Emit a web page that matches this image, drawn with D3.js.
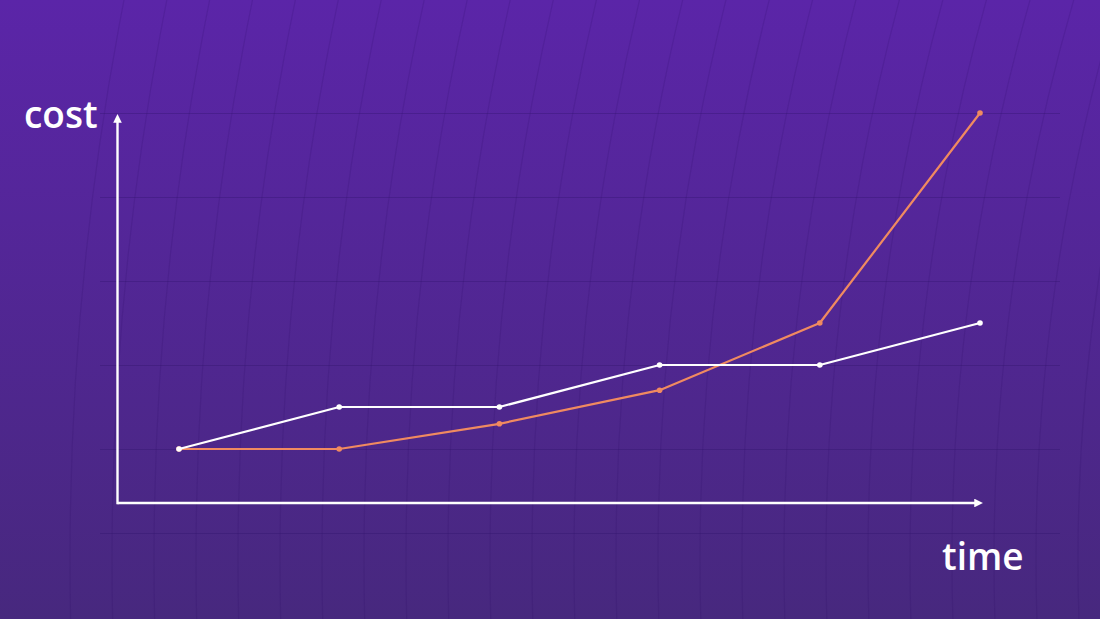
<!DOCTYPE html>
<html>
<head>
<meta charset="utf-8">
<script src="https://cdn.jsdelivr.net/npm/d3@7"></script>
<style>
  html, body { margin: 0; padding: 0; background: #512796; }
  svg { display: block; }
  .axis-title { font-family: "Open Sans", sans-serif; font-weight: 600; fill: #fff; font-size: 37px; }
</style>
</head>
<body>
<svg id="chart"></svg>
<script>
// data
const periods = ['t1', 't2', 't3', 't4', 't5', 't6'];
const baseCost = [1, 1.5, 1.5, 2, 2, 2.5];     // white line
const growthCost = [1, 1, 1.3, 1.7, 2.5, 5];   // orange line
const gridTicks = [0, 1, 2, 3, 4, 5];

const width = 1100, height = 619;
const svg = d3.select('#chart').attr('width', width).attr('height', height);

// background gradient
const defs = svg.append('defs');
const grad = defs.append('linearGradient')
    .attr('id', 'bg').attr('x1', 0).attr('y1', 0).attr('x2', 0).attr('y2', 1);
grad.append('stop').attr('offset', '0%').attr('stop-color', '#5b25a8');
grad.append('stop').attr('offset', '100%').attr('stop-color', '#47287e');

defs.append('marker')
    .attr('id', 'arrow')
    .attr('viewBox', '0 0 10 10')
    .attr('refX', 2).attr('refY', 5)
    .attr('markerWidth', 3.6).attr('markerHeight', 3.6)
    .attr('orient', 'auto')
  .append('path')
    .attr('d', 'M0,0 L10,5 L0,10 Z')
    .attr('fill', '#fff');

svg.append('rect').attr('width', width).attr('height', height).attr('fill', 'url(#bg)');

// faint decorative arcs (big circles centred far off to the right)
const arcs = svg.append('g').attr('fill', 'none')
    .attr('stroke', '#2c0f66').attr('stroke-opacity', 0.16).attr('stroke-width', 1.2);
d3.range(26).forEach(i => {
  arcs.append('circle').attr('cx', 3000).attr('cy', 560).attr('r', 1880 + i * 42);
});

// scales
const x = d3.scalePoint().domain(periods).range([179, 980]);
const y = d3.scaleLinear().domain([0, 5]).range([533, 113]);

// gridlines
const gridG = svg.append('g')
    .attr('transform', 'translate(100,0)')
    .call(d3.axisLeft(y).tickValues(gridTicks).tickSize(-960).tickFormat(''))
    .call(g => g.select('.domain').remove());
gridG.selectAll('.tick line')
    .attr('stroke', '#2c0f66').attr('stroke-opacity', 0.3).attr('stroke-width', 1.2);

// axes
const axisY = 503;
svg.append('line')
    .attr('x1', 117.5).attr('y1', axisY + 1.2).attr('x2', 117.5).attr('y2', 121)
    .attr('stroke', '#fff').attr('stroke-width', 2.4).attr('marker-end', 'url(#arrow)');
svg.append('line')
    .attr('x1', 117.5).attr('y1', axisY).attr('x2', 976).attr('y2', axisY)
    .attr('stroke', '#fff').attr('stroke-width', 2.4).attr('marker-end', 'url(#arrow)');

svg.append('text').attr('class', 'axis-title').attr('x', 24).attr('y', 128).text('cost');
svg.append('text').attr('class', 'axis-title').attr('x', 942).attr('y', 570).text('time');

// lines
const line = d3.line().x((d, i) => x(periods[i])).y(d => y(d));

function drawSeries(values, color) {
  const g = svg.append('g');
  g.append('path')
      .datum(values)
      .attr('fill', 'none')
      .attr('stroke', color)
      .attr('stroke-width', 2.2)
      .attr('stroke-linejoin', 'round')
      .attr('d', line);
  g.selectAll('circle')
      .data(values)
    .join('circle')
      .attr('cx', (d, i) => x(periods[i]))
      .attr('cy', d => y(d))
      .attr('r', 2.8)
      .attr('fill', color);
}

drawSeries(growthCost, '#f08a60');
drawSeries(baseCost, '#ffffff');
</script>
</body>
</html>
